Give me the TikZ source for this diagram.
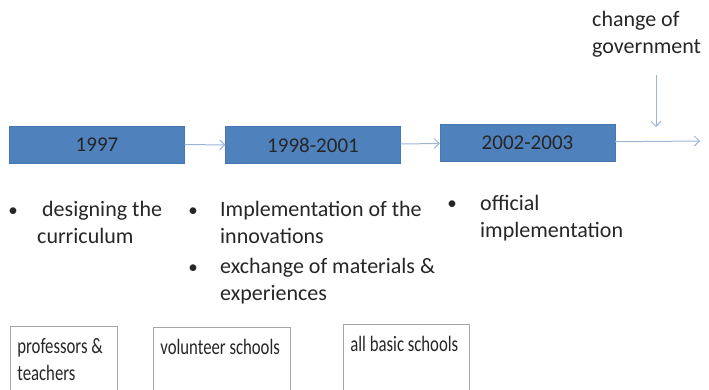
\documentclass[tikz,border=0pt]{standalone}
\usepackage{fontspec}
\setmainfont{Carlito}
\newfontfamily\narrowfont{Carlito}[FakeStretch=0.76]
\usepackage{tikz}
\usepackage{xcolor}
\usetikzlibrary{arrows.meta,positioning}

\definecolor{yearblue}{HTML}{4F81BD}
\definecolor{yearedge}{HTML}{4677B4}
\definecolor{flowblue}{HTML}{9DB4D5}
\definecolor{boxgray}{HTML}{A6A6A6}
\definecolor{textgray}{HTML}{262626}

\begin{document}
\begin{tikzpicture}[
		x=1pt, y=-1pt,
		node distance=24pt,
		year/.style={
			draw=yearedge, fill=yearblue, minimum width=175pt, minimum height=37pt, inner sep=0pt,
			font=\fontsize{21}{25}\selectfont, text=black!85
		},
		dot/.style={
			inner sep=0pt, font=\fontsize{19}{27}\selectfont, text=textgray
		},
		item/.style={
			align=flush left, inner sep=0pt, font=\fontsize{22}{27}\selectfont, text=textgray
		},
		group/.style={
			draw=boxgray, line width=0.8pt, anchor=north west, align=flush left, inner sep=7pt,
			text height=20pt, text depth=70pt, text=textgray,
			font=\narrowfont\fontsize{22}{27}\selectfont
		},
		flow/.style={
			draw=flowblue, line width=1pt, -{Straight Barb[length=5pt,width=10pt]}
		},
		]
		\useasboundingbox (0,0) rectangle (709,390);
		\clip (0,0) rectangle (709,390);
		
		% Periods
		\node [year] (y1997) at (97,144.5) {1997};
		\node [year] (y1998) at (313,145) {1998-2001};
		\node [year] (y2002) at (527.5,142.5) {2002-2003};
		\coordinate (later) at (700,141);
		
		\draw [flow] (y1997) -- (y1998);
		\draw [flow] (y1998) -- (y2002);
		\draw [flow] (y2002) -- (later);
		
		% Government change
		\node [item, text width=115pt, anchor=base west] (gov) at (592,27) {change of\\government};
		\coordinate (govtop) at (656,75);
		\coordinate (govtip) at (656,127);
		\draw [flow] (govtop) -- (govtip);
		
		% Activities
		\node [item, text width=150pt, anchor=base west] (design) at (37,216) {\ designing the\\curriculum};
		\node [dot, left=of design.base west, anchor=base] (dot1) {\textbullet};
		\node [item, text width=240pt, anchor=base west] (impl) at (220,216) {Implementation of the\\innovations};
		\node [dot, left=27pt of impl.base west, anchor=base] (dot2) {\textbullet};
		\node [item, text width=240pt, anchor=base west] (exch) at (220,273) {exchange of materials \&\\experiences};
		\node [dot, left=27pt of exch.base west, anchor=base] (dot3) {\textbullet};
		\node [item, text width=200pt, anchor=base west] (offic) at (480,211) {official\\implementation};
		\node [dot, left=28pt of offic.base west, anchor=base, yshift=2pt] (dot4) {\textbullet};
		
		% Participants
		\node [group, text width=93pt] (prof) at (10,326) {professors \&\\teachers};
		\node [group, text width=123pt] (volunteer) at (153,327) {volunteer schools};
		\node [group, text width=112pt] (basic) at (343,324) {all basic schools};
		
	\end{tikzpicture}
\end{document}
